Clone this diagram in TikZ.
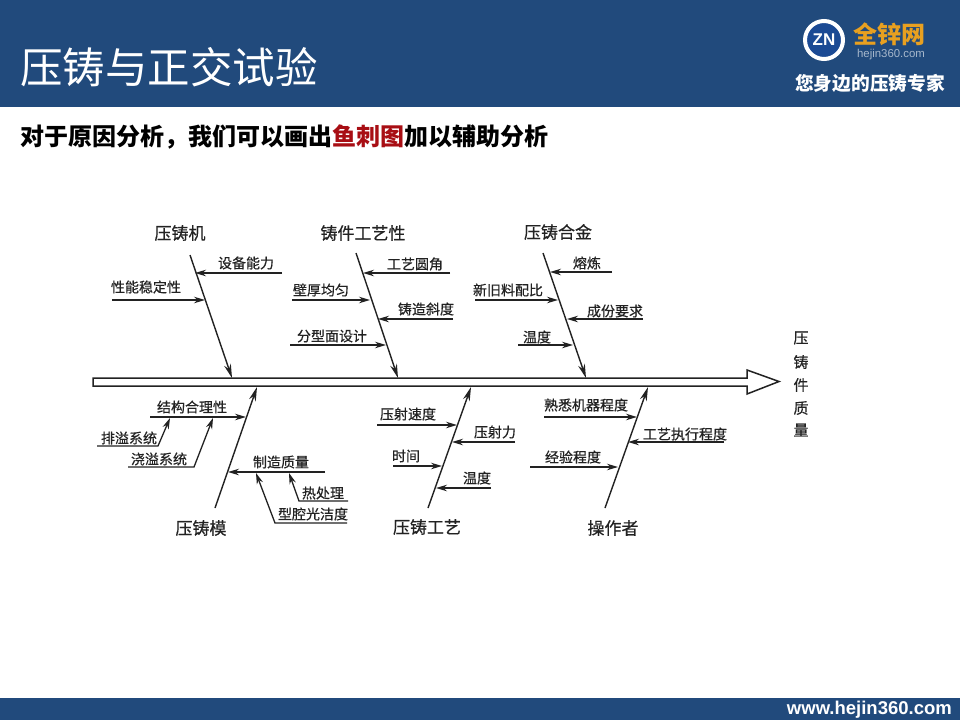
\documentclass[tikz,border=0pt]{standalone}
\usepackage{fontspec}
\setmainfont{Noto Sans CJK SC}
\newfontfamily\scanfont[FakeBold=0.5]{Noto Sans CJK SC}
\newfontfamily\latinbold{Liberation Sans}
\usetikzlibrary{arrows.meta}
\definecolor{band}{HTML}{214A7C}
\definecolor{ink}{HTML}{222222}
\definecolor{orangelogo}{HTML}{E8A020}
\definecolor{fishred}{HTML}{A80E14}
\definecolor{logoblue}{HTML}{1B4A94}
\tikzset{
  lab/.style={inner sep=0pt,text=ink,font=\scanfont\fontsize{14}{14}\selectfont},
  big/.style={inner sep=0pt,text=ink,font=\scanfont\fontsize{17}{17}\selectfont},
  side/.style={inner sep=0pt,text=ink,font=\scanfont\fontsize{15}{15}\selectfont},
  bone/.style={draw=ink,line width=1.4pt,-{Stealth[length=14pt,width=7pt]}},
  twig/.style={draw=ink,line width=1.3pt,-{Stealth[length=11pt,width=6.5pt]}},
  shaft/.style={draw=ink,line width=1.5pt,fill=white,line join=miter}
}
\begin{document}
\begin{tikzpicture}[x=1pt,y=-1pt]
\useasboundingbox (0,0) rectangle (960,720);
\fill[white] (0,0) rectangle (960,720);
\fill[band] (0,0) rectangle (960,107);
\fill[band] (0,698) rectangle (960,720);
% header
\node[inner sep=0pt,text=white,anchor=west,font=\fontsize{42.5}{42.5}\selectfont] (title) at (20,67) {压铸与正交试验};
\node[inner sep=0pt,anchor=west,text=black,font=\fontsize{24}{24}\selectfont\bfseries] (sub) at (20,137) {对于原因分析，我们可以画出\textcolor{fishred}{鱼刺图}加以辅助分析};
% logo
\node[circle,draw=white,line width=4pt,fill=logoblue,minimum size=38pt,inner sep=0pt,text=white,font=\latinbold\bfseries\fontsize{17}{17}\selectfont] (zn) at (824,40) {ZN};
\node[inner sep=0pt,text=orangelogo,font=\fontsize{24}{24}\selectfont\bfseries] (qxw) at (889,34) {全锌网};
\node[inner sep=0pt,text=white!60!band,font=\latinbold\fontsize{11.4}{12}\selectfont] (hj) at (891,55) {hejin360.com};
\node[inner sep=0pt,text=white,font=\fontsize{18.7}{19}\selectfont\bfseries] (slogan) at (870,83) {您身边的压铸专家};
\node[inner sep=0pt,text=white,anchor=east,font=\latinbold\bfseries\fontsize{18.5}{19}\selectfont] (www) at (952,710) {www.hejin360.com};
% spine
\coordinate (sL1) at (93,378); \coordinate (sR1) at (747,378);
\coordinate (hT) at (747,370); \coordinate (tip) at (779,381.5);
\coordinate (hB) at (747,394); \coordinate (sR2) at (747,386); \coordinate (sL2) at (93,386);
\path[shaft] (sL1) -- (sR1) -- (hT) -- (tip) -- (hB) -- (sR2) -- (sL2) -- cycle;
% category labels
\node[big] (c1) at (180,233) {压铸机};
\node[big] (c2) at (363,233) {铸件工艺性};
\node[big] (c3) at (558,232) {压铸合金};
\node[big] (c4) at (201,528) {压铸模};
\node[big] (c5) at (427,527) {压铸工艺};
\node[big] (c6) at (613,528) {操作者};
% bones
\coordinate (b1s) at (190,255); \coordinate (b1e) at (232,378);
\coordinate (b2s) at (356,253); \coordinate (b2e) at (398,378);
\coordinate (b3s) at (543,253); \coordinate (b3e) at (586,378);
\coordinate (b4s) at (215,508); \coordinate (b4e) at (257,387);
\coordinate (b5s) at (428,508); \coordinate (b5e) at (471,387);
\coordinate (b6s) at (605,508); \coordinate (b6e) at (648,387);
\draw[bone] (b1s) -- (b1e);
\draw[bone] (b2s) -- (b2e);
\draw[bone] (b3s) -- (b3e);
\draw[bone] (b4s) -- (b4e);
\draw[bone] (b5s) -- (b5e);
\draw[bone] (b6s) -- (b6e);
% twig labels
\node[lab] (t1) at (246,263) {设备能力};
\node[lab] (t2) at (146,287) {性能稳定性};
\node[lab] (t3) at (415,264) {工艺圆角};
\node[lab] (t4) at (321,290) {壁厚均匀};
\node[lab] (t5) at (426,309) {铸造斜度};
\node[lab] (t6) at (332,336) {分型面设计};
\node[lab] (t7) at (587,263) {熔炼};
\node[lab] (t8) at (508,290) {新旧料配比};
\node[lab] (t9) at (615,311) {成份要求};
\node[lab] (t10) at (537,337) {温度};
\node[lab] (t11) at (192,407) {结构合理性};
\node[lab] (t12) at (129,438) {排溢系统};
\node[lab] (t13) at (159,459) {浇溢系统};
\node[lab] (t14) at (281,462) {制造质量};
\node[lab] (t15) at (323,493) {热处理};
\node[lab] (t16) at (313,514) {型腔光洁度};
\node[lab] (t17) at (408,414) {压射速度};
\node[lab] (t18) at (495,432) {压射力};
\node[lab] (t19) at (406,456) {时间};
\node[lab] (t20) at (477,478) {温度};
\node[lab] (t21) at (586,405) {熟悉机器程度};
\node[lab] (t22) at (685,434) {工艺执行程度};
\node[lab] (t23) at (573,457) {经验程度};
% twig connectors
\coordinate (a1) at (282,273); \coordinate (z1) at (195,273);
\coordinate (a2) at (112,300); \coordinate (z2) at (205,300);
\coordinate (a3) at (450,273); \coordinate (z3) at (363,273);
\coordinate (a4) at (292,300); \coordinate (z4) at (370,300);
\coordinate (a5) at (453,319); \coordinate (z5) at (378,319);
\coordinate (a6) at (290,345); \coordinate (z6) at (386,345);
\coordinate (a7) at (612,272); \coordinate (z7) at (550,272);
\coordinate (a8) at (475,300); \coordinate (z8) at (558,300);
\coordinate (a9) at (643,319); \coordinate (z9) at (567,319);
\coordinate (a10) at (518,345); \coordinate (z10) at (573,345);
\coordinate (a11) at (150,417); \coordinate (z11) at (246,417);
\coordinate (a12) at (97,446); \coordinate (k12) at (158,446); \coordinate (z12) at (170,418);
\coordinate (a13) at (128,467); \coordinate (k13) at (194,467); \coordinate (z13) at (213,418);
\coordinate (a14) at (325,472); \coordinate (z14) at (228,472);
\coordinate (a15) at (348,501); \coordinate (k15) at (299,501); \coordinate (z15) at (289,473);
\coordinate (a16) at (347,523); \coordinate (k16) at (275,523); \coordinate (z16) at (256,473);
\coordinate (a17) at (377,425); \coordinate (z17) at (457,425);
\coordinate (a18) at (515,442); \coordinate (z18) at (452,442);
\coordinate (a19) at (393,466); \coordinate (z19) at (442,466);
\coordinate (a20) at (491,488); \coordinate (z20) at (436,488);
\coordinate (a21) at (544,417); \coordinate (z21) at (637,417);
\coordinate (a22) at (724,442); \coordinate (z22) at (628,442);
\coordinate (a23) at (530,467); \coordinate (z23) at (618,467);
\foreach \i in {1,...,11,14,17,18,19,20,21,22,23}{\draw[twig] (a\i) -- (z\i);}
\foreach \i in {12,13,15,16}{\draw[twig] (a\i) -- (k\i) -- (z\i);}
% effect
\node[side] (e1) at (801,338) {压};
\node[side] (e2) at (801,362) {铸};
\node[side] (e3) at (801,385) {件};
\node[side] (e4) at (801,408) {质};
\node[side] (e5) at (801,430) {量};
\end{tikzpicture}
\end{document}
